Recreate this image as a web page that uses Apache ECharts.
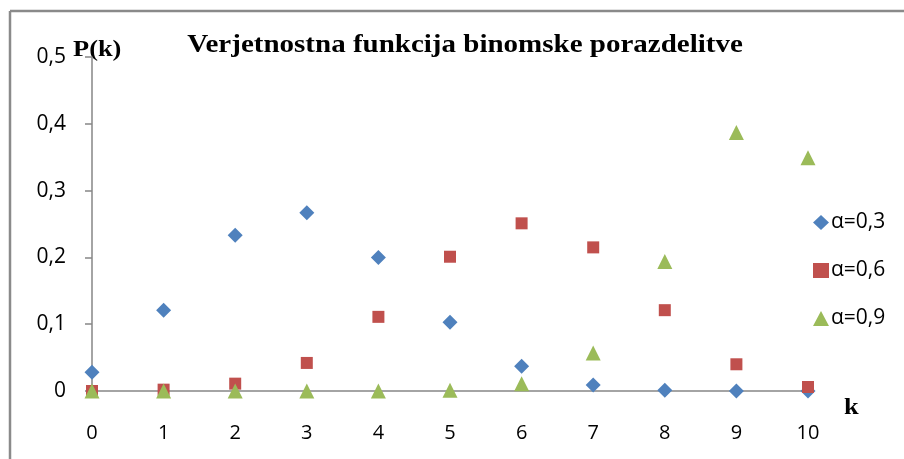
<!DOCTYPE html>
<html>
<head>
<meta charset="utf-8">
<script src="https://cdn.jsdelivr.net/npm/echarts@6/dist/echarts.min.js"></script>
<style>
  html, body { margin: 0; padding: 0; background: #fff; }
  #chart { width: 904px; height: 459px; }
</style>
</head>
<body>
<div id="chart"></div>
<script>
// k = 0..10
const kValues = [0, 1, 2, 3, 4, 5, 6, 7, 8, 9, 10];
const seriesNames = ['α=0,3', 'α=0,6', 'α=0,9'];
const p03 = [0.028, 0.121, 0.233, 0.267, 0.200, 0.103, 0.037, 0.009, 0.001, 0.000, 0.000];
const p06 = [0.000, 0.002, 0.011, 0.042, 0.111, 0.201, 0.251, 0.215, 0.121, 0.040, 0.006];
const p09 = [0.000, 0.000, 0.000, 0.000, 0.000, 0.001, 0.011, 0.057, 0.194, 0.387, 0.349];
const yTicks = [0, 0.1, 0.2, 0.3, 0.4, 0.5];

const sansFont = '"Open Sans", "Noto Sans", sans-serif';
const serifFont = '"Liberation Serif", "DejaVu Serif", serif';
const axisGray = '#868686';

function pairs(vals) {
  return kValues.map((k, i) => [k, vals[i]]);
}

let myChart = echarts.init(document.getElementById('chart'));
let option = {
  animation: false,
  color: ['#4F81BD', '#C0504D', '#9BBB59'],
  legend: {
    orient: 'vertical',
    left: 808,
    top: 207,
    itemGap: 27,
    itemWidth: 16,
    itemHeight: 15,
    textStyle: { fontFamily: sansFont, fontSize: 21, color: '#000', padding: [0, 0, 0, -3] },
    data: [
      { name: seriesNames[0], icon: 'diamond' },
      { name: seriesNames[1], icon: 'rect' },
      { name: seriesNames[2], icon: 'triangle' }
    ]
  },
  grid: { left: 92, right: 96, top: 57, bottom: 68 },
  xAxis: {
    type: 'value',
    min: 0,
    max: 10,
    interval: 1,
    axisLine: { show: true, onZero: false, lineStyle: { color: axisGray, width: 1.5 } },
    axisTick: { show: false },
    splitLine: { show: false },
    axisLabel: { margin: 32, fontFamily: sansFont, fontSize: 20, color: '#000' }
  },
  yAxis: {
    type: 'value',
    min: yTicks[0],
    max: yTicks[yTicks.length - 1],
    interval: 0.1,
    axisLine: { show: true, onZero: false, lineStyle: { color: axisGray, width: 1.5 } },
    axisTick: { show: true, length: 7, lineStyle: { color: axisGray, width: 1.5 } },
    splitLine: { show: false },
    axisLabel: {
      margin: 26,
      fontFamily: sansFont,
      fontSize: 21,
      color: '#000',
      formatter: v => String(Math.round(v * 10) / 10).replace('.', ',')
    }
  },
  graphic: [
    { type: 'line', shape: { x1: 10, y1: 11, x2: 910, y2: 11 }, style: { stroke: '#8a8a8a', lineWidth: 2.5 } },
    { type: 'line', shape: { x1: 10, y1: 11, x2: 10, y2: 465 }, style: { stroke: '#8a8a8a', lineWidth: 2.5 } },
    {
      type: 'text', x: 465, y: 46, scaleX: 1.16,
      style: { text: 'Verjetnostna funkcija binomske porazdelitve', textAlign: 'center', textVerticalAlign: 'middle',
               fontFamily: serifFont, fontWeight: 'bold', fontSize: 25, fill: '#000' }
    },
    {
      type: 'text', x: 73, y: 50, scaleX: 1.1,
      style: { text: 'P(k)', textVerticalAlign: 'middle', fontFamily: serifFont, fontWeight: 'bold', fontSize: 24, fill: '#000' }
    },
    {
      type: 'text', x: 844, y: 408, scaleX: 1.1,
      style: { text: 'k', textVerticalAlign: 'middle', fontFamily: serifFont, fontWeight: 'bold', fontSize: 24, fill: '#000' }
    }
  ],
  series: [
    { name: seriesNames[0], type: 'scatter', symbol: 'diamond', symbolSize: 15, itemStyle: { opacity: 1 }, data: pairs(p03) },
    { name: seriesNames[1], type: 'scatter', symbol: 'rect', symbolSize: 12, itemStyle: { opacity: 1 }, data: pairs(p06) },
    { name: seriesNames[2], type: 'scatter', symbol: 'triangle', symbolSize: 15, itemStyle: { opacity: 1 }, data: pairs(p09) }
  ]
};
myChart.setOption(option);
</script>
</body>
</html>
